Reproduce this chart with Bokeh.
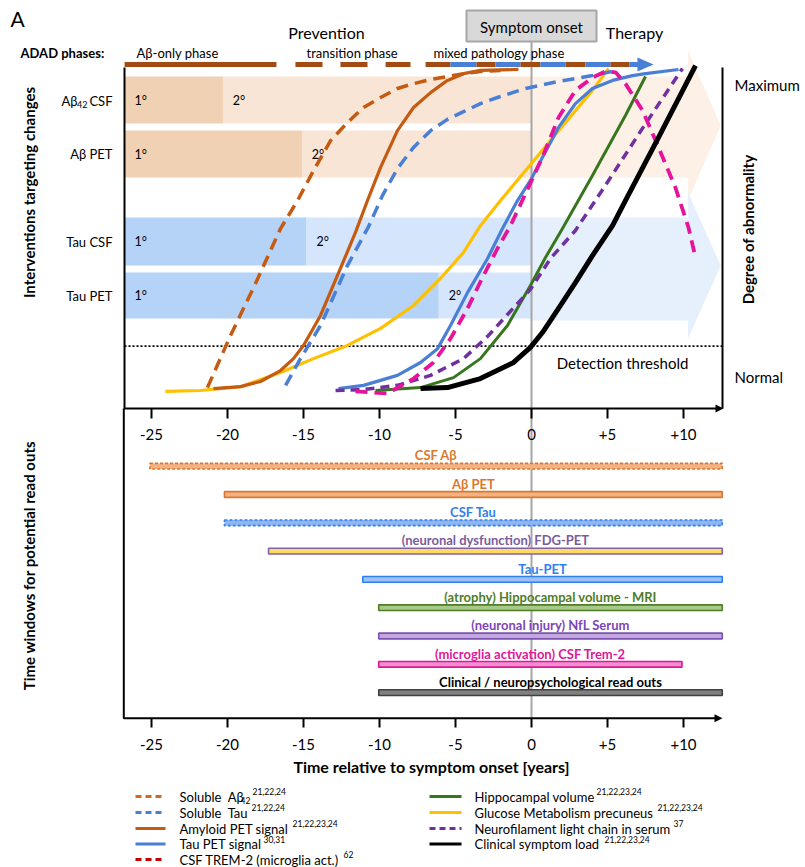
import numpy as np
from bokeh.plotting import figure
from bokeh.models import Range1d
from bokeh.core.properties import value
from bokeh.embed import file_html
from bokeh.resources import INLINE

FONT = value("Lato")

# ---------------- data ----------------
tick_years = [-25, -20, -15, -10, -5, 0, 5, 10]
tick_labels = ["-25", "-20", "-15", "-10", "-5", "0", "+5", "+10"]

# curves: years relative to onset, abnormality (0 = normal, 1 = maximum)
ab42_t = [-21.32, -19.80, -18.16, -16.51, -15.39, -14.34, -13.22, -12.11, -11.05, -9.93, -8.82, -7.76, -6.64, -5.53, -4.47, -3.36, -2.04]
ab42_a = [0.009, 0.171, 0.332, 0.503, 0.590, 0.683, 0.776, 0.832, 0.879, 0.910, 0.938, 0.953, 0.966, 0.975, 0.984, 0.991, 0.994]

apet_t = [-20.92, -19.14, -17.83, -16.51, -15.66, -15.0, -13.88, -12.57, -11.58, -10.79, -9.93, -8.82, -7.76, -6.64, -5.53, -4.47, -3.36, -0.86]
apet_a = [0.006, 0.012, 0.028, 0.062, 0.099, 0.140, 0.233, 0.379, 0.491, 0.590, 0.693, 0.807, 0.879, 0.925, 0.963, 0.984, 0.994, 0.997]

stau_t = [-16.18, -15.20, -13.88, -12.11, -10.72, -9.80, -8.82, -7.76, -6.64, -5.53, -4.47, -3.36, -2.24, -0.39, 1.78, 4.01, 5.33]
stau_a = [0.016, 0.099, 0.202, 0.388, 0.509, 0.606, 0.689, 0.755, 0.807, 0.842, 0.866, 0.891, 0.910, 0.938, 0.960, 0.978, 0.991]

glu_t = [-24.08, -21.78, -19.14, -16.51, -14.34, -12.11, -9.93, -7.76, -5.99, -4.47, -3.36, -2.04, -0.39, 1.78, 4.01, 5.07]
glu_a = [-0.003, 0.0, 0.012, 0.056, 0.099, 0.140, 0.193, 0.264, 0.348, 0.429, 0.512, 0.590, 0.683, 0.807, 0.932, 1.0]

tpet_t = [-12.70, -11.05, -8.82, -7.30, -6.18, -5.33, -4.21, -2.89, -1.91, -0.92, 0.0, 0.72, 1.78, 2.89, 4.01, 5.33, 6.64, 7.5, 9.67]
tpet_a = [0.006, 0.016, 0.047, 0.087, 0.130, 0.202, 0.304, 0.410, 0.503, 0.590, 0.658, 0.724, 0.817, 0.891, 0.938, 0.963, 0.978, 0.984, 0.997]

trem_t = [-11.58, -9.47, -7.76, -6.45, -5.33, -4.21, -3.16, -2.24, -1.38, -0.39, 0.72, 1.78, 2.89, 4.01, 4.87, 5.53, 6.18, 7.30, 8.36, 9.47, 10.33, 10.79]
trem_a = [-0.003, -0.009, 0.037, 0.087, 0.161, 0.255, 0.357, 0.441, 0.512, 0.612, 0.724, 0.848, 0.932, 0.972, 0.991, 0.988, 0.953, 0.870, 0.755, 0.630, 0.506, 0.413]

nfl_t = [-12.89, -11.05, -8.82, -6.64, -4.47, -2.89, -1.58, -0.07, 1.25, 2.89, 5.07, 7.30, 9.93]
nfl_a = [0.0, 0.003, 0.016, 0.047, 0.099, 0.168, 0.236, 0.314, 0.410, 0.497, 0.652, 0.814, 1.0]

hip_t = [-10.26, -7.30, -5.13, -3.36, -1.58, -0.07, 0.92, 2.04, 4.01, 6.18, 7.5]
hip_a = [0.0, 0.009, 0.040, 0.099, 0.202, 0.326, 0.413, 0.503, 0.668, 0.854, 0.975]

clin_t = [-7.30, -5.53, -3.36, -1.18, -0.07, 0.72, 1.78, 2.89, 4.01, 5.33, 6.18, 8.36, 10.79]
clin_a = [0.006, 0.009, 0.037, 0.087, 0.134, 0.180, 0.255, 0.335, 0.419, 0.512, 0.590, 0.786, 1.009]

# intervention bands: end of primary (1°) window, in years
band_labels = ["Aβ PET", "Tau CSF", "Tau PET"]
band_primary_end = [-20.3, -15.1, -14.8, -6.1]
therapy_end = 10.3
therapy_tip = 12.45

# ADAD phase line segments (years)
phase_t0 = [-26.77, -15.53, -12.57, -9.6, -6.97, -5.33, -3.62, -2.37, -0.72, 0.59, 2.24, 3.55, 5.2, 6.45]
phase_t1 = [-16.78, -13.75, -10.79, -7.96, -5.33, -3.62, -2.37, -0.72, 0.59, 2.24, 3.55, 5.2, 6.45, 7.1]
phase_kind = ["ab", "ab", "ab", "ab", "ab", "tau", "ab", "tau", "ab", "tau", "ab", "tau", "ab", "tau"]
phase_tip = [6.97, 8.03]

# read-out windows
ro_labels = ["CSF Aβ", "Aβ PET", "CSF Tau", "(neuronal dysfunction) FDG-PET", "Tau-PET",
             "(atrophy) Hippocampal volume - MRI", "(neuronal injury) NfL Serum",
             "(microglia activation) CSF Trem-2", "Clinical / neuropsychological read outs"]
ro_start = [-25.1, -20.2, -20.2, -17.3, -11.1, -10.05, -10.05, -10.05, -10.05]
ro_end = [12.55, 12.55, 12.55, 12.55, 12.55, 12.55, 12.55, 9.9, 12.55]
ro_fill = ["#f4b183", "#f4b183", "#8fb6f0", "#ffd966", "#9cc2f5", "#a9c98a", "#c3a8e0", "#f28fcf", "#808080"]
ro_line = ["#d9782c", "#d9782c", "#2f7fef", "#8064a2", "#2f7fef", "#4f7d28", "#7c52b0", "#e0169b", "#404040"]
ro_dash = ["3 2", "solid", "3 2", "solid", "solid", "solid", "solid", "solid", "solid"]
ro_text = ["#d9782c", "#d9782c", "#2f7fef", "#7a5c9e", "#2f7fef", "#4f7d28", "#7c45b8", "#e0169b", "#000000"]

# ---------------- figure ----------------
W, H = 805, 867
X0, K = 531.0, 15.2
p = figure(width=W, height=H, x_range=Range1d(0, W), y_range=Range1d(H, 0),
           output_backend="svg", toolbar_location=None, min_border=0,
           x_axis_type=None, y_axis_type=None, outline_line_color=None,
           background_fill_color="white", border_fill_color="white")
p.extra_x_ranges = {"yr": Range1d((0 - X0) / K, (W - X0) / K)}
p.extra_y_ranges = {"abn": Range1d((390 - H) / 322.0, 390 / 322.0),
                    "row": Range1d((H - 465.7) / 28.3, (0 - 465.7) / 28.3)}


def txt(x, y, s, size, align="left", bold=False, color="black", angle=0.0, xr="default", yr="default"):
    p.text(x=[x], y=[y], text=[s], text_font=FONT, text_font_size=f"{size}px", text_align=align,
           text_baseline="middle", text_color=color, text_font_style="bold" if bold else "normal",
           angle=angle, x_range_name=xr, y_range_name=yr)


AB1, AB2, AB3 = "#f1d1b4", "#f9e5d6", "#fdf1e7"
TA1, TA2, TA3 = "#b5d2f7", "#d5e5fb", "#e6f0fc"

# therapy arrows (right of onset)
p.patch([0, therapy_end, therapy_end, therapy_tip, therapy_end, therapy_end, 0],
        [76, 76, 50, 125, 200, 177, 177], fill_color=AB3, line_color=None, x_range_name="yr")
p.patch([0, therapy_end, therapy_end, therapy_tip, therapy_end, therapy_end, 0],
        [217, 217, 192, 265, 338, 320, 320], fill_color=TA3, line_color=None, x_range_name="yr")

# intervention bands
band_y = [(76, 123), (130, 177), (217, 265), (272, 318)]
band_c1 = [AB1, AB1, TA1, TA1]
band_c2 = [AB2, AB2, TA2, TA2]
left_t = (124 - X0) / K
for (yt, yb), e, c1, c2 in zip(band_y, band_primary_end, band_c1, band_c2):
    p.quad(left=[left_t], right=[e], top=[yt], bottom=[yb], fill_color=c1, line_color=None, x_range_name="yr")
    p.quad(left=[e], right=[0], top=[yt], bottom=[yb], fill_color=c2, line_color=None, x_range_name="yr")

# 1° / 2° labels
for (yt, yb), e in zip(band_y, band_primary_end):
    ym = (yt + yb) / 2
    txt(134, ym, "1°", 12.5)
    txt(e + 0.65, ym, "2°", 12.5, xr="yr")

# row labels
txt(112, 100, "CSF", 13, align="right")
txt(87, 104, "42", 9, align="right")
txt(77, 100, "Aβ", 13, align="right")
for lab, ym in zip(band_labels, [153, 241, 295]):
    txt(112, ym, lab, 13, align="right")

# detection threshold
p.line([124, 722], [345.7, 345.7], line_color="black", line_width=1.8, line_dash="2 2")
txt(622, 362, "Detection threshold", 15, align="center")

# symptom onset vertical line
p.segment(x0=[0], y0=[41], x1=[0], y1=[717], line_color="#a6a6a6", line_width=2, x_range_name="yr")

# curves
curves = [
    (glu_t, glu_a, "#ffc000", "solid", 3.2),
    (ab42_t, ab42_a, "#c55a11", "12 7", 3.5),
    (apet_t, apet_a, "#c55a11", "solid", 3.2),
    (stau_t, stau_a, "#4a7fd6", "12 7", 3.5),
    (tpet_t, tpet_a, "#4a7fd6", "solid", 3.2),
    (hip_t, hip_a, "#38761d", "solid", 3.0),
    (nfl_t, nfl_a, "#7030a0", "9 6", 3.5),
    (trem_t, trem_a, "#e6149c", "12 7", 3.8),
    (clin_t, clin_a, "#000000", "solid", 5.0),
]
for t, a, c, d, w in curves:
    p.line(t, a, line_color=c, line_dash=d, line_width=w, line_join="round",
           x_range_name="yr", y_range_name="abn")

# phase line
PB, PT = "#a24b13", "#4a7fd6"
pc = [PB if k == "ab" else PT for k in phase_kind]
p.segment(x0=phase_t0, y0=[64] * len(phase_t0), x1=phase_t1, y1=[64] * len(phase_t1),
          line_color=pc, line_width=5, line_cap="butt", x_range_name="yr")
p.patch([phase_tip[0], phase_tip[1], phase_tip[0]], [57, 64, 71], fill_color=PT, line_color=None,
        x_range_name="yr")

# frame of upper panel
p.line([124, 124, 716], [67, 408, 408], line_color="black", line_width=2)
p.line([722, 722], [67, 408], line_color="black", line_width=2)
p.patch([715, 723, 715], [404, 408, 412], fill_color="black", line_color=None)
# lower panel
p.line([123.3, 123.3, 715], [408, 717.7, 717.7], line_color="black", line_width=2)
p.patch([714, 722, 714], [713.7, 717.7, 721.7], fill_color="black", line_color=None)

# ticks
n = len(tick_years)
p.segment(x0=tick_years, y0=[408] * n, x1=tick_years, y1=[418] * n, line_color="black", line_width=2, x_range_name="yr")
p.segment(x0=tick_years, y0=[717.7] * n, x1=tick_years, y1=[727] * n, line_color="black", line_width=2, x_range_name="yr")
p.text(x=tick_years, y=[434] * n, text=tick_labels, text_font=FONT, text_font_size="15px", text_align="center",
       text_baseline="middle", x_range_name="yr")
p.text(x=tick_years, y=[744] * n, text=tick_labels, text_font=FONT, text_font_size="15px", text_align="center",
       text_baseline="middle", x_range_name="yr")

# read-out bars
rows = list(range(len(ro_labels)))
for r, s, e, f, lc, ld, tc, lab in zip(rows, ro_start, ro_end, ro_fill, ro_line, ro_dash, ro_text, ro_labels):
    p.quad(left=[s], right=[e], top=[r - 0.1], bottom=[r + 0.1], fill_color=f, line_color=lc,
           line_width=1.6, line_dash=ld, x_range_name="yr", y_range_name="row")
    p.text(x=[(s + e) / 2], y=[r - 0.38], text=[lab], text_font=FONT, text_font_size="13px",
           text_font_style="bold", text_color=tc, text_align="center", text_baseline="middle",
           x_range_name="yr", y_range_name="row")

# headers
txt(10, 18, "A", 21)
txt(326, 32, "Prevention", 16, align="center")
txt(634, 32, "Therapy", 16, align="center")
p.quad(left=[466], right=[596], top=[10], bottom=[41], fill_color="#d9d9d9", line_color="#a6a6a6", line_width=2)
txt(531, 26, "Symptom onset", 15, align="center")
txt(20, 52, "ADAD phases:", 13, bold=True)
txt(136, 52, "Aβ-only phase", 13)
txt(306, 52, "transition phase", 13)
txt(433, 52, "mixed pathology phase", 13)

# right labels
txt(734, 84, "Maximum", 15)
txt(734, 376, "Normal", 15)
txt(747, 229, "Degree of abnormality", 15, align="center", bold=True, angle=np.pi / 2)
txt(28, 192, "Interventions targeting changes", 15, align="center", bold=True, angle=np.pi / 2)
txt(28, 565, "Time windows for potential read outs", 15, align="center", bold=True, angle=np.pi / 2)
txt(431, 766, "Time relative to symptom onset [years]", 16, align="center", bold=True)

# legend
leg_left = [("Soluble\u00a0 Aβ", "#d2691e", "6 4", "21,22,24", 252),
            ("Soluble\u00a0 Tau", "#4a7fd6", "6 4", "21,22,24", 251),
            ("Amyloid PET signal", "#c55a11", "solid", "21,22,23,24", 292),
            ("Tau PET signal", "#4a7fd6", "solid", "30,31", 263),
            ("CSF TREM-2 (microglia act.)", "#c00000", "6 4", "62", 343)]
leg_right = [("Hippocampal volume", "#38761d", "solid", "21,22,23,24", 596),
             ("Glucose Metabolism precuneus", "#ffc000", "solid", "21,22,23,24", 657),
             ("Neurofilament light chain in serum", "#7030a0", "6 4", "37", 673),
             ("Clinical symptom load", "#000000", "solid", "21,22,23,24", 604)]
leg_y = [796, 812, 828, 843.5, 859]
for (lab, c, d, sup, sx), y in zip(leg_left, leg_y):
    p.line([135, 165], [y, y], line_color=c, line_dash=d, line_width=3)
    txt(179, y, lab, 13)
    txt(sx, y - 5, sup, 8.5)
txt(240, 800, "42", 8.5)
for (lab, c, d, sup, sx), y in zip(leg_right, leg_y):
    p.line([429, 461], [y, y], line_color=c, line_dash=d, line_width=3)
    txt(474, y, lab, 13)
    txt(sx, y - 5, sup, 8.5)

open("out.html", "w").write(file_html(p, INLINE))
